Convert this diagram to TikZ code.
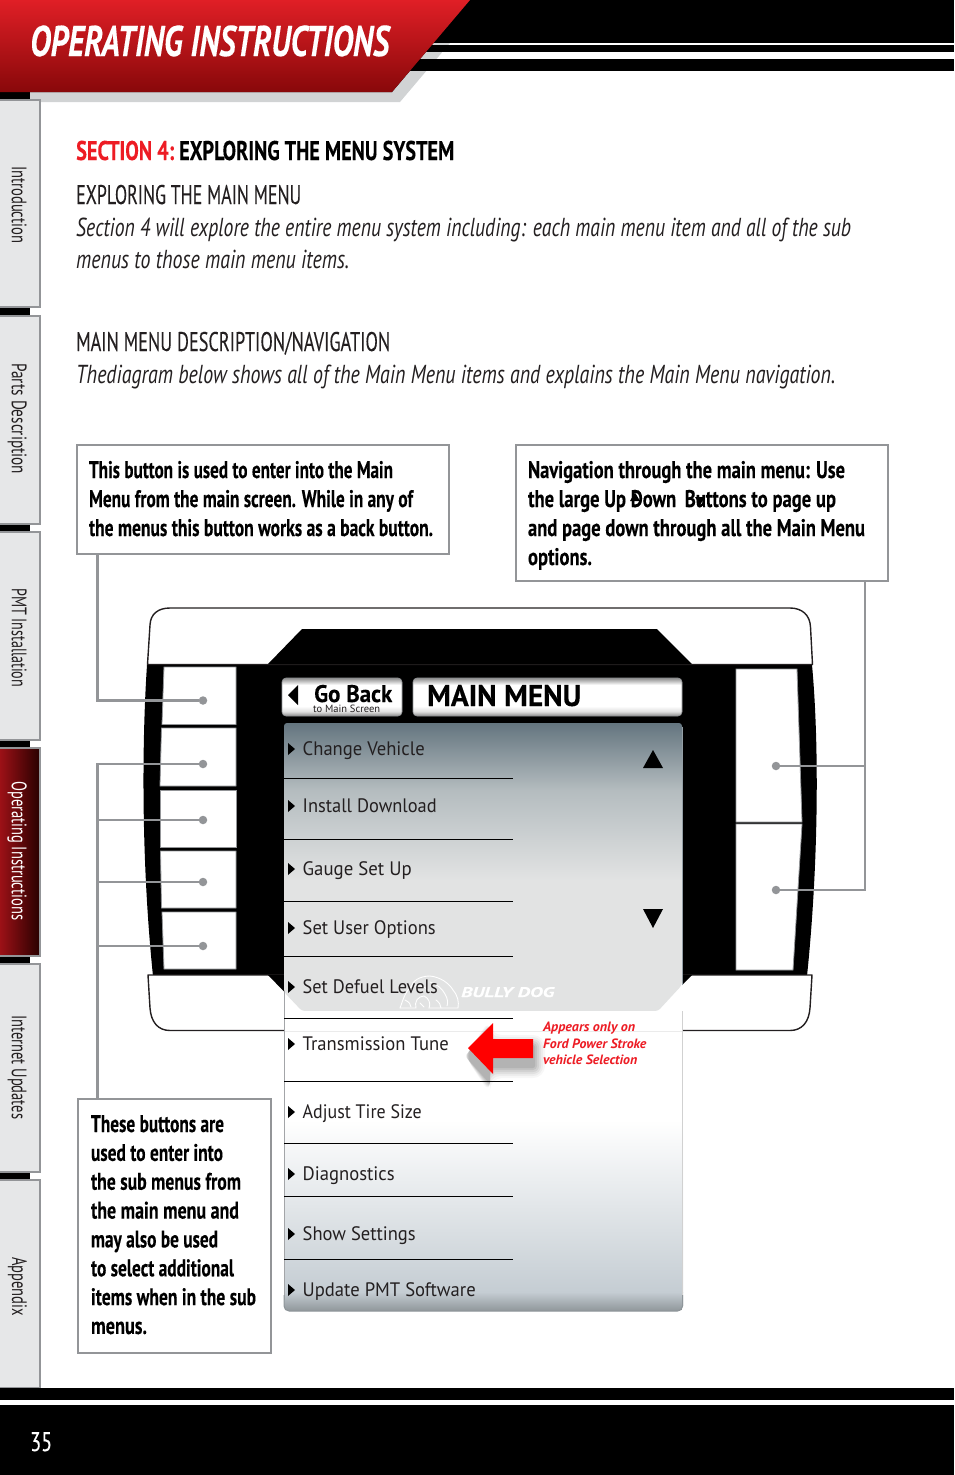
\documentclass[tikz,border=0pt]{standalone}
\usepackage{fontspec}
\usepackage{graphicx}
\setmainfont{PT Sans}
\newfontfamily\heavy[FakeBold=0.25]{PT Sans Bold}
\newfontfamily\heavyit[FakeBold=0.25]{PT Sans Bold Italic}
\newfontfamily\semi[FakeBold=0.12]{PT Sans}
\usetikzlibrary{calc}
\definecolor{lead}{HTML}{939598}
\definecolor{tabfill}{HTML}{E6E7E8}
\definecolor{shadowgray}{HTML}{D1D3D4}
\definecolor{ink}{HTML}{231F20}
\definecolor{redtxt}{HTML}{ED1C24}
\definecolor{panelA}{HTML}{64757F}
\definecolor{panelB}{HTML}{B4BCBF}
\definecolor{panelC}{HTML}{E2E3E3}
\definecolor{panelD}{HTML}{C5CDD3}
\definecolor{panelE}{HTML}{8F969A}
\pgfdeclareverticalshading{btnshade}{100bp}{color(0bp)=(black!45); color(25bp)=(black!45); color(31bp)=(black!12); color(38bp)=(white); color(66bp)=(white); color(75bp)=(black!45); color(100bp)=(black!45)}
\newcommand\fitw[2]{\resizebox{#1pt}{\height}{#2}}
\newdimen\bxstep
\newcommand\bxln[3][11]{\hbox to\hsize{\kern#1pt\smash{\fitw{#2}{#3}}\hss}\kern\bxstep}
\tikzset{
  txt/.style={inner sep=0pt,anchor=base west,text=black},
  tabbox/.style={draw=lead,line width=2pt,fill=tabfill},
  tablabel/.style={inner sep=0pt,anchor=base west,rotate=-90,text=ink,font=\fontsize{21}{21}\selectfont},
  callout/.style={draw=lead,line width=2.5pt,fill=white,inner sep=0pt,outer sep=0pt,anchor=north west,font=\heavy\fontsize{24}{24}\selectfont},
  leader/.style={draw=lead,line width=2.2pt},
  dot/.style={circle,fill=lead,inner sep=0pt,minimum size=8.5pt},
  sep/.style={draw=black,line width=1pt},
  menu/.style={inner sep=0pt,anchor=base west,text=ink,font=\fontsize{19.5}{19.5}\selectfont},
  softkey/.style={fill=white,draw=lead,line width=.8pt},
  caseline/.style={draw=ink,line width=1.4pt,fill=white,line join=round},
  redln/.style={inner sep=0pt,anchor=base west,text=redtxt,font=\bfseries\itshape\fontsize{13.5}{13.5}\selectfont},
}
\begin{document}
\begin{tikzpicture}[x=1pt,y=-1pt]
\useasboundingbox (0,0) rectangle (954,1475);
% header
\fill[shadowgray] (28,92) -- (30,102) -- (400,102) -- (450,43) -- (380,43) -- cycle;
\fill[black] (380,0) rectangle (954,43);
\fill[black] (420,45) rectangle (954,52);
\fill[black] (400,59) rectangle (954,71);
\fill[white] (450,43) rectangle (954,45);
\fill[white] (442,52) rectangle (954,59);
\fill[black] (0,92) rectangle (30,100);
\fill[top color={rgb,255:red,224;green,31;blue,38},bottom color={rgb,255:red,136;green,8;blue,10}] (0,0) -- (470,0) -- (392,92) -- (0,92) -- cycle;
\node[txt,text=white,font=\heavyit\fontsize{43}{43}\selectfont] (title) at (30,56) {\fitw{359}{OPERATING INSTRUCTIONS}};
% tabs
\fill[black] (0,307) rectangle (30,316);
\fill[black] (0,524) rectangle (30,532);
\fill[black] (0,740) rectangle (30,748);
\fill[black] (0,956) rectangle (30,964);
\fill[black] (0,1172) rectangle (30,1180);
\draw[tabbox] (-3,100) -- (40,100) -- (40,307) -- (-3,307);
\draw[tabbox] (-3,316) -- (40,316) -- (40,524) -- (-3,524);
\draw[tabbox] (-3,532) -- (40,532) -- (40,740) -- (-3,740);
\draw[tabbox,left color={rgb,255:red,165;green,18;blue,24},right color={rgb,255:red,40;green,0;blue,0}] (-3,748) -- (40,748) -- (40,956) -- (-3,956) -- cycle;
\draw[tabbox] (-3,964) -- (40,964) -- (40,1172) -- (-3,1172);
\draw[tabbox] (-3,1180) -- (40,1180) -- (40,1388) -- (-3,1388);
\node[tablabel] (tab1) at (12,166) {\fitw{77}{Introduction}};
\node[tablabel] (tab2) at (12,363) {\fitw{111}{Parts Description}};
\node[tablabel] (tab3) at (12,588) {\fitw{99}{PMT Installation}};
\node[tablabel,text=white] (tab4) at (12,781) {\fitw{139}{Operating Instructions}};
\node[tablabel] (tab5) at (12,1015) {\fitw{104}{Internet Updates}};
\node[tablabel] (tab6) at (12,1257) {\fitw{59}{Appendix}};
% footer
\fill[black] (0,1388) rectangle (954,1400);
\fill[black] (0,1405) rectangle (954,1475);
\node[txt,text=white,font=\semi\fontsize{27}{27}\selectfont] (pageno) at (30,1451) {\fitw{22}{35}};
% headings
\node[txt,text=redtxt,font=\heavy\fontsize{27}{27}\selectfont] (sec) at (76,160) {\fitw{98}{SECTION 4:}};
\node[txt,font=\heavy\fontsize{27}{27}\selectfont] (sectitle) at (179,160) {\fitw{275}{EXPLORING THE MENU SYSTEM}};
\node[txt,text=ink,font=\semi\fontsize{27}{27}\selectfont] (h1) at (76,204) {\fitw{225}{EXPLORING THE MAIN MENU}};
\node[txt,text=ink,font=\itshape\fontsize{26}{26}\selectfont] (p1) at (76,236) {\fitw{775}{Section 4 will explore the entire menu system including: each main menu item and all of the sub}};
\node[txt,text=ink,font=\itshape\fontsize{26}{26}\selectfont] (p2) at (76,268) {\fitw{273}{menus to those main menu items.}};
\node[txt,text=ink,font=\semi\fontsize{27}{27}\selectfont] (h2) at (76,351) {\fitw{314}{MAIN MENU DESCRIPTION/NAVIGATION}};
\node[txt,text=ink,font=\itshape\fontsize{26}{26}\selectfont] (p3) at (76,383) {\fitw{759}{Thediagram below shows all of the Main Menu items and explains the Main Menu navigation.}};
% callouts
\node[callout] (boxA) at (77,445) {\vbox to 109pt{\hsize=372pt\offinterlineskip\bxstep=29pt\kern33pt
  \bxln[12]{304}{This button is used to enter into the Main}
  \bxln[12]{324}{Menu from the main screen. While in any of}
  \bxln[12]{344}{the menus this button works as a back button.}\vss}};
\node[callout] (boxB) at (516,445) {\vbox to 136pt{\hsize=372pt\offinterlineskip\bxstep=29pt\kern33pt
  \bxln[12]{317}{Navigation through the main menu: Use}
  \bxln[12]{308}{the large Up Down\kern5pt\ Buttons to page up}
  \bxln[12]{337}{and page down through all the Main Menu}
  \bxln[12]{64}{options.}\vss}};
\fill[black] (635,492.5) -- (640,501) -- (630,501) -- cycle;
\fill[black] (695,497) -- (705,497) -- (700,505) -- cycle;
\node[callout] (boxC) at (78,1099) {\vbox to 254pt{\hsize=193pt\offinterlineskip\bxstep=28.85pt\kern33pt
  \bxln[13]{133}{These buttons are}
  \bxln[13]{132}{used to enter into}
  \bxln[13]{150}{the sub menus from}
  \bxln[13]{148}{the main menu and}
  \bxln[13]{127}{may also be used}
  \bxln[13]{143}{to select additional}
  \bxln[13]{165}{items when in the sub}
  \bxln[13]{56}{menus.}\vss}};
% device
\fill[black] (147,665) .. controls (142,740) and (141,860) .. (153,976) -- (807,976) .. controls (819,860) and (819,740) .. (812,665) -- cycle;
\draw[caseline] (147.5,664.5) -- (150,625) .. controls (150.5,614) and (158,608) .. (170,608) -- (790,608) .. controls (802,608) and (810,615) .. (810.5,627) -- (812.5,664.5) -- cycle;
\fill[black] (268,664) -- (302,629) -- (657,629) -- (692,664) -- cycle;
\draw[caseline] (148,975) -- (150,1008) .. controls (151,1022) and (158,1030.5) .. (170,1030.5) -- (790,1030.5) .. controls (802,1030.5) and (809,1022) .. (810,1008) -- (812,975) -- cycle;
\fill[black] (268,975) -- (284.5,975) -- (284.5,992) -- cycle;
\fill[black] (692,975) -- (682,975) -- (682,985) -- cycle;
% soft keys
\path[softkey] (164,667) -- (236,667) -- (236,724.5) -- (162,724.5) -- cycle;
\path[softkey] (161.5,728) -- (236,728) -- (236,786) -- (160,786) -- cycle;
\path[softkey] (160,790) -- (236,790) -- (236,847) -- (160,847) -- cycle;
\path[softkey] (160.5,851) -- (236,851) -- (236,908) -- (161.5,908) -- cycle;
\path[softkey] (162,912) -- (236,912) -- (236,969) -- (164,969) -- cycle;
\path[softkey] (736,669) -- (797,669) -- (802,822) -- (736,822) -- cycle;
\path[softkey] (736,824) -- (802,824) -- (793,970) -- (736,970) -- cycle;
% title bars
\path[rounded corners=4pt,shading=btnshade,draw=lead,line width=.6pt] (282,678) rectangle (402,716);
\path[rounded corners=4pt,shading=btnshade,draw=lead,line width=.6pt] (413,678) rectangle (682,716);
\fill[black] (288,695) -- (298,685) -- (298,705) -- cycle;
\node[txt,font=\heavy\fontsize{24}{24}\selectfont] (goback) at (314,702) {\fitw{78}{Go Back}};
\node[txt,text=ink,font=\fontsize{10.5}{10.5}\selectfont] (gosub) at (313,712) {\fitw{67}{to Main Screen}};
\node[txt,font=\heavy\fontsize{30}{30}\selectfont] (mainmenu) at (427,706) {\fitw{154}{MAIN MENU}};
% menu panel
\fill[white] (284,1011) rectangle (683,1130);
\begin{scope}
\clip[rounded corners=3pt] (284,723) -- (682,723) -- (682,800) -- (682,985) -- (658,1011) -- (302,1011) -- (284,992) -- cycle;
\fill[top color=panelA,bottom color=panelB] (284,723) rectangle (683,790);
\fill[top color=panelB,bottom color=panelC] (284,790) rectangle (683,880);
\fill[panelC] (284,880) rectangle (683,1011);
\end{scope}
\draw[panelA!70,line width=.8pt] (682,727) -- (682,985);
\draw[black!8,line width=1pt] (284,1031) -- (683,1031);
\begin{scope}
\clip[rounded corners=5pt] (284,1100) -- (683,1100) -- (683,1311) -- (284,1311) -- cycle;
\fill[top color=white,bottom color=panelD] (284,1120) rectangle (683,1292);
\fill[top color=panelD,bottom color=panelE] (284,1292) rectangle (683,1311);
\end{scope}
\draw[black!18,line width=1.2pt] (682.5,1011) -- (682.5,1300);
\draw[lead!85,line width=1pt] (284,992) -- (284,1300);
\draw[panelE,line width=1pt,rounded corners=5pt] (284,1295) -- (284,1311) -- (682.5,1311) -- (682.5,1295);
\fill[black] (653,750) -- (663,768) -- (643,768) -- cycle;
\fill[black] (643,909) -- (663,909) -- (653,928) -- cycle;
% logo
\begin{scope}[draw=white,line width=.9pt,fill=none,line cap=round]
\draw (400,1008) .. controls (403,1000) and (405,992) .. (411,987) .. controls (412,981) and (420,976) .. (430,976) .. controls (440,977) and (449,983) .. (453,990) .. controls (458,996) and (459,1002) .. (458,1008) -- (442,1008);
\draw (411,987) .. controls (418,984) and (424,986) .. (428,990);
\draw (430,982) .. controls (436,984) and (442,988) .. (445,994) .. controls (448,999) and (448,1003) .. (447,1006);
\draw (400,1008) -- (416,1008) .. controls (414,1002) and (418,996) .. (424,996) .. controls (429,998) and (431,1004) .. (429,1008) -- (442,1008);
\draw (405,1000) .. controls (409,1002) and (411,1004) .. (411,1007);
\draw (436,1000) .. controls (439,1002) and (441,1005) .. (441,1008);
\draw (420,1003) -- (424,1007);
\end{scope}
\node[txt,text=white,font=\heavyit\fontsize{14}{14}\selectfont] (logo) at (461,997) {\fitw{93}{BULLY DOG}};
% menu rows
\foreach \nm/\yy/\ww/\tt in {m1/755/122/Change Vehicle,m2/812/134/Install Download,m3/875/109/Gauge Set Up,m4/934/133/Set User Options,m5/993/135/Set Defuel Levels,m6/1050/146/Transmission Tune,m7/1118/119/Adjust Tire Size,m8/1180/92/Diagnostics,m9/1240/113/Show Settings,m10/1296/173/Update PMT Software}{
  \node[menu] (\nm) at (302.5,\yy) {\fitw{\ww}{\tt}};
  \fill[black] (288,\yy-12) -- (295,\yy-6) -- (288,\yy) -- cycle;
}
\foreach \yy in {778,839,901,956,1018,1081,1143,1196,1259}{
  \draw[sep] (284,\yy) -- (513,\yy);
}
% red arrow
\foreach \i/\o in {12/.03,10/.04,8/.05,6/.06,4/.07,2/.08}{
  \fill[black,opacity=\o,rounded corners=\i pt] (468-3,1048+8) -- (493-3,1023+8-\i) -- (493-3,1039+8-\i) -- (533+\i,1039+8-\i) -- (533+\i,1058+8+\i) -- (493-3,1058+8+\i) -- (493-3,1074+8+\i) -- cycle;
}
\fill[red] (468,1048) -- (493,1023) -- (493,1039) -- (533,1039) -- (533,1058) -- (493,1058) -- (493,1074) -- cycle;
\node[redln] (r1) at (543,1031) {\fitw{92}{Appears only on}};
\node[redln] (r2) at (543,1048) {\fitw{103}{Ford Power Stroke}};
\node[redln] (r3) at (543,1064) {\fitw{94}{vehicle Selection}};
% leaders
\node[dot] (d1) at (203,700.5) {};
\node[dot] (d2) at (203,764) {};
\node[dot] (d3) at (203,820) {};
\node[dot] (d4) at (203,882) {};
\node[dot] (d5) at (203,946) {};
\node[dot] (d6) at (776,766) {};
\node[dot] (d7) at (776,890) {};
\coordinate (fromA) at (97.5,555);
\coordinate (fromC) at (97.5,1098);
\coordinate (fromB) at (865,582);
\draw[leader] (fromA) |- (d1);
\draw[leader] (fromC) |- (d2);
\draw[leader] (fromC |- d3) -- (d3);
\draw[leader] (fromC |- d4) -- (d4);
\draw[leader] (fromC |- d5) -- (d5);
\draw[leader] (fromB) |- (d7);
\draw[leader] (fromB |- d6) -- (d6);
\end{tikzpicture}
\end{document}
